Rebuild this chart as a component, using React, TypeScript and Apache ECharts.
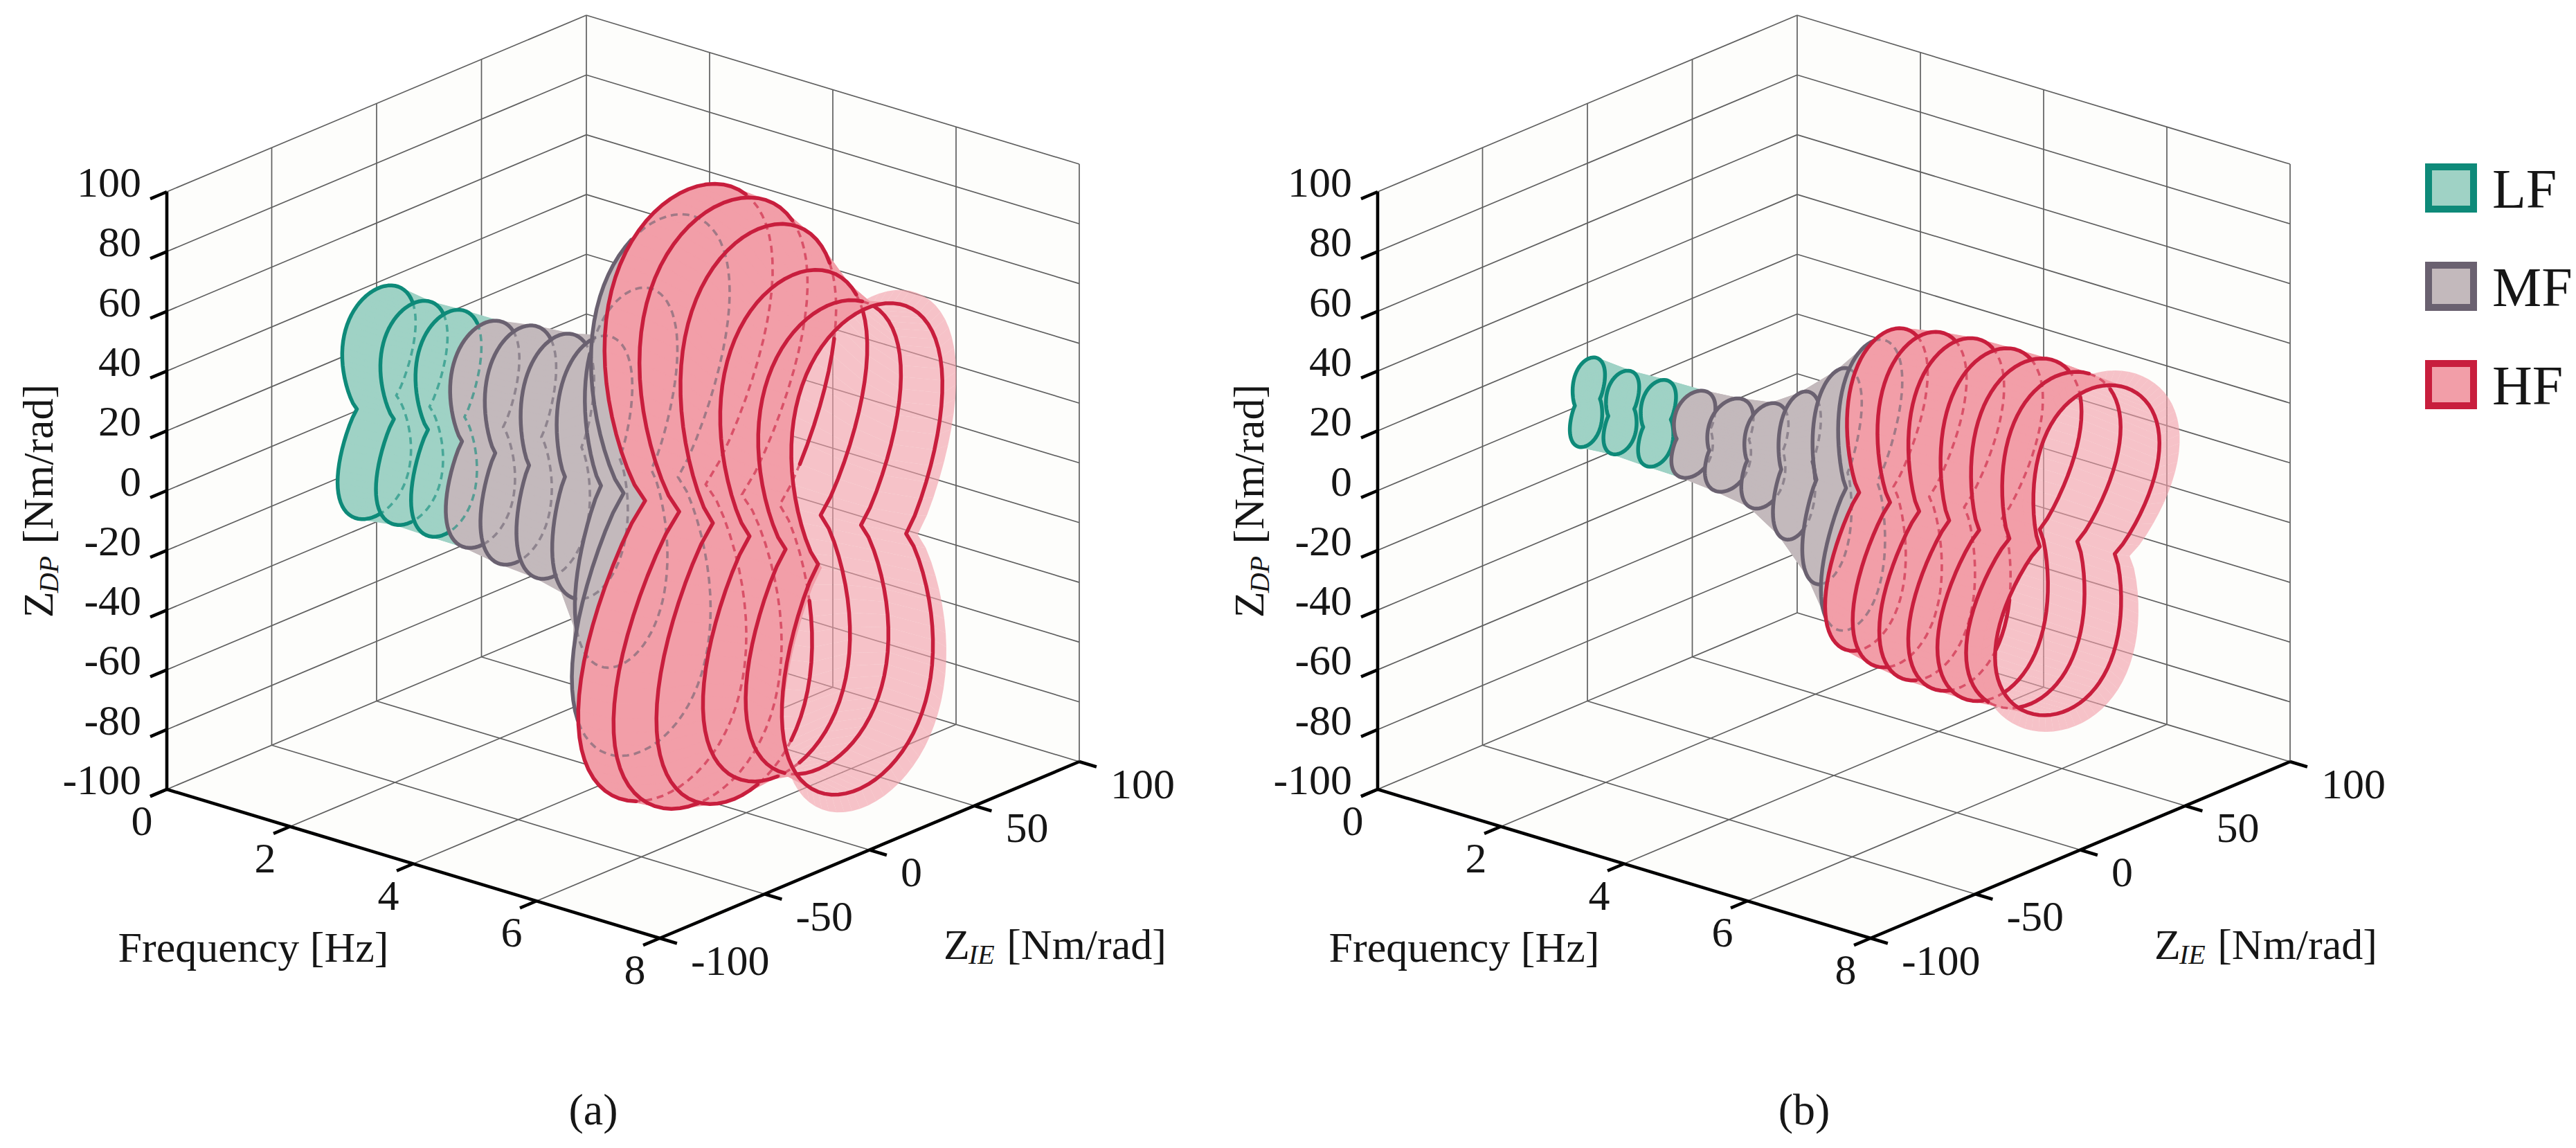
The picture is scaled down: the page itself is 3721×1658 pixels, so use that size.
import React, { useEffect, useRef } from "react";
import * as echarts from "echarts";

const PAGE_W = 3721;
const PAGE_H = 1658;

/* ---------------- axes & texts ---------------- */
const FREQ_TICKS = [0, 2, 4, 6, 8];
const ZIE_TICKS = [-100, -50, 0, 50, 100];
const ZDP_TICKS = [-100, -80, -60, -40, -20, 0, 20, 40, 60, 80, 100];
const FREQ_TITLE = "Frequency [Hz]";
const UNIT_TEXT = "[Nm/rad]";
const IE_SUB = "IE";
const DP_SUB = "DP";
const PANEL_TAGS = ["(a)", "(b)"];
const LEGEND_BANDS = ["LF", "MF", "HF"];

/* ---------------- panel (a): impedance contours ---------------- */
const freqA = [0.0, 0.57, 1.13, 1.72, 2.3, 2.9, 3.5, 4.05, 4.45, 4.85, 5.42, 6.0, 6.63, 7.25, 7.88, 8.0];
const bandA = ["LF", "LF", "LF", "MF", "MF", "MF", "MF", "MF", "MF", "HF", "HF", "HF", "HF", "HF", "HF", "HF"];
const halfWidthA = [17.5, 16.0, 15.7, 16.5, 17.0, 17.5, 18.0, 22.0, 33.0, 40.0, 40.0, 37.0, 35.0, 34.0, 36.0, 39.0];
const halfHeightA = [38, 36.5, 37, 37, 39, 40, 43, 62, 88, 100, 99, 94, 83, 77, 80, 85];
const waistA = [9.4, 8.5, 8.7, 9.8, 11, 12.5, 13, 12, 13, 14.5, 15, 16, 17, 18, 21, 23];
const tiltA = [3, 3, 3, 3, 3, 3, 3, 4, 5, 6, 6, 6, 5, 4, 3, 3];
const outlinedA = [1, 1, 1, 1, 1, 1, 1, 1, 1, 1, 1, 1, 1, 1, 1, 0];

/* ---------------- panel (b): impedance contours ---------------- */
const freqB = [0.0, 0.55, 1.13, 1.72, 2.3, 2.88, 3.4, 3.97, 4.45, 4.69, 5.23, 5.75, 6.3, 6.85, 7.4, 7.95, 8.0];
const bandB = ["LF", "LF", "LF", "MF", "MF", "MF", "MF", "MF", "MF", "HF", "HF", "HF", "HF", "HF", "HF", "HF", "HF"];
const halfWidthB = [7.7, 7.9, 8.4, 9.9, 11.0, 10.5, 10.0, 11.5, 15.0, 19.0, 21.0, 22.5, 24.0, 26.0, 28.0, 30.0, 38.0];
const halfHeightB = [14.5, 13.5, 14.0, 14.0, 15.0, 17.0, 24.0, 35.0, 47.0, 52.0, 54.0, 55.0, 55.0, 55.0, 54.0, 53.0, 58.0];
const waistB = [6.0, 6.2, 6.6, 8.0, 9.5, 8.5, 7.5, 7.5, 7.5, 8.3, 9.5, 11.0, 13.0, 15.0, 17.0, 19.0, 25.0];
const tiltB = [6, 6, 6, 6, 6, 6, 7, 8, 9, 10, 11, 13, 15, 16, 18, 20, 20];
const outlinedB = [1, 1, 1, 1, 1, 1, 1, 1, 1, 1, 1, 1, 1, 1, 1, 1, 0];

/* ---------------- layout & style ---------------- */
const BOX_ORIGIN = [241, 1140];
const AXIS_F = [712, 215];
const AXIS_I = [606, -255];
const AXIS_D = [0, -863];
const PANEL_SHIFT = [0, 1749];
const TICK_LEN = 26;
const FAMILY = "Liberation Serif";
const TICK_SIZE = 62;
const TITLE_SIZE = 62;
const SUB_SIZE = 40;
const TAG_SIZE = 64;
const LEGEND_SIZE = 80;
const TEXT_COLOR = "#161616";
const WALL_FILL = "#fdfdfb";
const GRID_COLOR = "#5f5f5f";
const GRID_W = 1.7;
const AXIS_W = 4.6;
const BAND_LINE: Record<string, string> = { LF: "#0e8a79", MF: "#6a6170", HF: "#c81e3d" };
const BAND_FILL: Record<string, string> = { LF: "#9fd2c5", MF: "#c3b9bc", HF: "#f29ea8" };
const RING_SAMPLES = 100;
const SHAPE_POWER = 0.8;

const F_MIN = FREQ_TICKS[0];
const F_MAX = FREQ_TICKS[FREQ_TICKS.length - 1];
const I_MIN = ZIE_TICKS[0];
const I_MAX = ZIE_TICKS[ZIE_TICKS.length - 1];
const D_MIN = ZDP_TICKS[0];
const D_MAX = ZDP_TICKS[ZDP_TICKS.length - 1];

function unitCoords(f: number, zie: number, zdp: number) {
  return [(f - F_MIN) / (F_MAX - F_MIN), (zie - I_MIN) / (I_MAX - I_MIN), (zdp - D_MIN) / (D_MAX - D_MIN)];
}

function project(pi: number, f: number, zie: number, zdp: number): number[] {
  const [X, Y, Z] = unitCoords(f, zie, zdp);
  return [
    BOX_ORIGIN[0] + PANEL_SHIFT[pi] + X * AXIS_F[0] + Y * AXIS_I[0] + Z * AXIS_D[0],
    BOX_ORIGIN[1] + X * AXIS_F[1] + Y * AXIS_I[1] + Z * AXIS_D[1],
  ];
}

// view direction (towards the viewer) of the orthographic projection
const VIEW = (() => {
  const r1 = [AXIS_F[0], AXIS_I[0], AXIS_D[0]];
  const r2 = [AXIS_F[1], AXIS_I[1], AXIS_D[1]];
  let d = [r1[1] * r2[2] - r1[2] * r2[1], r1[2] * r2[0] - r1[0] * r2[2], r1[0] * r2[1] - r1[1] * r2[0]];
  if (d[0] < 0) d = d.map((v) => -v);
  const n = Math.hypot(d[0], d[1], d[2]);
  return d.map((v) => v / n);
})();

function nearness(f: number, zie: number, zdp: number) {
  const [X, Y, Z] = unitCoords(f, zie, zdp);
  return X * VIEW[0] + Y * VIEW[1] + Z * VIEW[2];
}

function lobeGain(A: number, Aw: number) {
  if (A <= Aw + 1e-6) return 0;
  const widest = (k: number) => {
    let m = 0;
    for (let i = 0; i <= 200; i++) {
      const u = i / 200;
      const v = Math.sqrt(1 - u * u) * (Aw + k * Math.pow(u, SHAPE_POWER));
      if (v > m) m = v;
    }
    return m;
  };
  let lo = 0;
  let hi = 40 * A;
  for (let it = 0; it < 60; it++) {
    const mid = (lo + hi) / 2;
    if (widest(mid) > A) hi = mid;
    else lo = mid;
  }
  return (lo + hi) / 2;
}

function contour(A: number, B: number, Aw: number, tiltDeg: number) {
  const k = lobeGain(A, Aw);
  const r = (tiltDeg * Math.PI) / 180;
  const cr = Math.cos(r);
  const sr = Math.sin(r);
  const out: number[][] = [];
  for (let j = 0; j < RING_SAMPLES; j++) {
    const t = (2 * Math.PI * j) / RING_SAMPLES;
    const u = Math.cos(t);
    const s = Math.sin(t);
    const half = k === 0 ? A : Aw + k * Math.pow(Math.abs(u), SHAPE_POWER);
    const x = s * half;
    const y = B * u;
    out.push([x * cr + y * sr, -x * sr + y * cr]);
  }
  return out;
}

type Pt = { x: number; y: number; s: number };

function insidePoly(pts: Pt[], x: number, y: number) {
  let inside = false;
  for (let i = 0, j = pts.length - 1; i < pts.length; j = i++) {
    const xi = pts[i].x, yi = pts[i].y, xj = pts[j].x, yj = pts[j].y;
    if (yi > y !== yj > y && x < ((xj - xi) * (y - yi)) / (yj - yi + 1e-12) + xi) inside = !inside;
  }
  return inside;
}

function area2(pts: Pt[]) {
  let a = 0;
  for (let i = 0; i < pts.length; i++) {
    const p = pts[i];
    const q = pts[(i + 1) % pts.length];
    a += p.x * q.y - q.x * p.y;
  }
  return a;
}

function buildPanel(pi: number, freq: number[], band: string[], A: number[], B: number[], Aw: number[], tilt: number[], outlined: number[]) {
  const N = RING_SAMPLES;
  const rings: Pt[][] = freq.map((f, i) =>
    contour(A[i], B[i], Aw[i], tilt[i]).map(([zie, zdp]) => {
      const p = project(pi, f, zie, zdp);
      return { x: p[0], y: p[1], s: nearness(f, zie, zdp) };
    })
  );
  const jl = Math.round((3 * N) / 4);
  const refArea = area2([rings[0][jl], rings[0][(jl + 1) % N], rings[1][(jl + 1) % N], rings[1][jl]]);
  const frontSign = refArea >= 0 ? 1 : -1;
  const quads: any[] = [];
  for (let i = 0; i < rings.length - 1; i++) {
    for (let j = 0; j < N; j++) {
      const jn = (j + 1) % N;
      const pts = [rings[i][j], rings[i][jn], rings[i + 1][jn], rings[i + 1][j]];
      const s = (pts[0].s + pts[1].s + pts[2].s + pts[3].s) / 4;
      const xs = pts.map((p) => p.x);
      const ys = pts.map((p) => p.y);
      quads.push({
        seg: i,
        band: band[i],
        pts,
        s,
        front: area2(pts) * frontSign >= 0,
        minx: Math.min(...xs),
        maxx: Math.max(...xs),
        miny: Math.min(...ys),
        maxy: Math.max(...ys),
      });
    }
  }
  quads.sort((a, b) => a.s - b.s);
  const outlines: any[] = [];
  for (let i = 0; i < rings.length; i++) {
    if (!outlined[i]) continue;
    const ring = rings[i];
    const vis = ring.map((p) => {
      for (const q of quads) {
        if (q.seg === i || q.seg === i - 1) continue;
        if (q.s <= p.s + 0.003) continue;
        if (p.x < q.minx || p.x > q.maxx || p.y < q.miny || p.y > q.maxy) continue;
        if (insidePoly(q.pts, p.x, p.y)) return false;
      }
      return true;
    });
    const segVis = vis.map((v, j) => v && vis[(j + 1) % N]);
    let start = 0;
    for (let j = 0; j < N; j++) {
      if (segVis[j] !== segVis[(j - 1 + N) % N]) {
        start = j;
        break;
      }
    }
    const runs: any[] = [];
    let cur: any = null;
    for (let k = 0; k < N; k++) {
      const j = (start + k) % N;
      const v = segVis[j];
      if (!cur || cur.v !== v) {
        cur = { v, pts: [ring[j]] };
        runs.push(cur);
      }
      cur.pts.push(ring[(j + 1) % N]);
    }
    outlines.push({ band: band[i], runs });
  }
  return { quads, outlines };
}

/* ---------------- element helpers ---------------- */
let measureCtx: CanvasRenderingContext2D | null = null;
function measure(t: string, size: number, italic = false) {
  if (!measureCtx) measureCtx = document.createElement("canvas").getContext("2d");
  if (!measureCtx) return t.length * size * 0.5;
  measureCtx.font = `${italic ? "italic " : ""}${size}px '${FAMILY}', serif`;
  return measureCtx.measureText(t).width;
}

function seg(a: number[], b: number[], color: string, w: number) {
  return {
    type: "line",
    silent: true,
    shape: { x1: a[0], y1: a[1], x2: b[0], y2: b[1] },
    style: { stroke: color, lineWidth: w, lineCap: "butt" },
  };
}

function txt(x: number, y: number, text: string, size: number, align: string, italic = false) {
  return {
    type: "text",
    silent: true,
    x,
    y,
    style: {
      text,
      fontSize: size,
      fontFamily: FAMILY,
      fontStyle: italic ? "italic" : "normal",
      fill: TEXT_COLOR,
      align,
      verticalAlign: "middle",
      textAlign: align,
      textVerticalAlign: "middle",
    },
  };
}

function compositeTitle(cx: number, cy: number, sub: string, rotated: boolean) {
  const w1 = measure("Z", TITLE_SIZE);
  const w2 = measure(sub, SUB_SIZE, true);
  const gap = measure(" ", TITLE_SIZE);
  const w3 = measure(UNIT_TEXT, TITLE_SIZE);
  const total = w1 + w2 + gap + w3;
  const x0 = -total / 2;
  return {
    type: "group",
    silent: true,
    x: cx,
    y: cy,
    rotation: rotated ? Math.PI / 2 : 0,
    children: [
      txt(x0, 0, "Z", TITLE_SIZE, "left"),
      txt(x0 + w1 - 2, 15, sub, SUB_SIZE, "left", true),
      txt(x0 + w1 + w2 + gap, 0, UNIT_TEXT, TITLE_SIZE, "left"),
    ],
  };
}

function unit(v: number[]) {
  const n = Math.hypot(v[0], v[1]);
  return [v[0] / n, v[1] / n];
}

function frameGroup(pi: number, api: any) {
  const P = (f: number, i: number, d: number) => api.coord(project(pi, f, i, d));
  const ch: any[] = [];
  const wall = (pts: number[][]) => ({ type: "polygon", silent: true, shape: { points: pts }, style: { fill: WALL_FILL, stroke: null } });
  ch.push(wall([P(F_MIN, I_MIN, D_MIN), P(F_MIN, I_MAX, D_MIN), P(F_MIN, I_MAX, D_MAX), P(F_MIN, I_MIN, D_MAX)]));
  ch.push(wall([P(F_MIN, I_MAX, D_MIN), P(F_MAX, I_MAX, D_MIN), P(F_MAX, I_MAX, D_MAX), P(F_MIN, I_MAX, D_MAX)]));
  ch.push(wall([P(F_MIN, I_MIN, D_MIN), P(F_MAX, I_MIN, D_MIN), P(F_MAX, I_MAX, D_MIN), P(F_MIN, I_MAX, D_MIN)]));
  const g = (a: number[], b: number[]) => ch.push(seg(a, b, GRID_COLOR, GRID_W));
  ZIE_TICKS.slice(1, -1).forEach((v) => {
    g(P(F_MIN, v, D_MIN), P(F_MIN, v, D_MAX));
    g(P(F_MIN, v, D_MIN), P(F_MAX, v, D_MIN));
  });
  ZDP_TICKS.slice(1, -1).forEach((v) => {
    g(P(F_MIN, I_MIN, v), P(F_MIN, I_MAX, v));
    g(P(F_MIN, I_MAX, v), P(F_MAX, I_MAX, v));
  });
  FREQ_TICKS.slice(1, -1).forEach((v) => {
    g(P(v, I_MAX, D_MIN), P(v, I_MAX, D_MAX));
    g(P(v, I_MIN, D_MIN), P(v, I_MAX, D_MIN));
  });
  g(P(F_MIN, I_MIN, D_MAX), P(F_MIN, I_MAX, D_MAX));
  g(P(F_MIN, I_MAX, D_MAX), P(F_MAX, I_MAX, D_MAX));
  g(P(F_MIN, I_MAX, D_MIN), P(F_MIN, I_MAX, D_MAX));
  g(P(F_MAX, I_MAX, D_MIN), P(F_MAX, I_MAX, D_MAX));
  g(P(F_MIN, I_MIN, D_MIN), P(F_MIN, I_MAX, D_MIN));
  g(P(F_MIN, I_MAX, D_MIN), P(F_MAX, I_MAX, D_MIN));
  ch.push(seg(P(F_MIN, I_MIN, D_MIN), P(F_MIN, I_MIN, D_MAX), "#000", AXIS_W));
  ch.push(seg(P(F_MIN, I_MIN, D_MIN), P(F_MAX, I_MIN, D_MIN), "#000", AXIS_W));
  ch.push(seg(P(F_MAX, I_MIN, D_MIN), P(F_MAX, I_MAX, D_MIN), "#000", AXIS_W));
  const dI = unit(AXIS_I);
  const dF = unit(AXIS_F);
  const outI = [-dI[0] * TICK_LEN, -dI[1] * TICK_LEN];
  const outF = [dF[0] * TICK_LEN, dF[1] * TICK_LEN];
  ZDP_TICKS.forEach((v) => {
    const b = P(F_MIN, I_MIN, v);
    const e = [b[0] + outI[0], b[1] + outI[1]];
    ch.push(seg(b, e, "#000", AXIS_W));
    ch.push(txt(e[0] - 13, e[1] - 24, String(v), TICK_SIZE, "right"));
  });
  FREQ_TICKS.forEach((v) => {
    const b = P(v, I_MIN, D_MIN);
    const e = [b[0] + outI[0], b[1] + outI[1]];
    ch.push(seg(b, e, "#000", AXIS_W));
    ch.push(txt(e[0] - 12, e[1] + 35, String(v), TICK_SIZE, "center"));
  });
  ZIE_TICKS.forEach((v) => {
    const b = P(F_MAX, v, D_MIN);
    const e = [b[0] + outF[0], b[1] + outF[1]];
    ch.push(seg(b, e, "#000", AXIS_W));
    ch.push(txt(e[0] + 20, e[1] + 24, String(v), TICK_SIZE, "left"));
  });
  const fMid = P((F_MIN + F_MAX) / 2, I_MIN, D_MIN);
  ch.push(txt(fMid[0] - 231, fMid[1] + 120, FREQ_TITLE, TITLE_SIZE, "center"));
  const iMid = P(F_MAX, (I_MIN + I_MAX) / 2, D_MIN);
  ch.push(compositeTitle(iMid[0] + 268, iMid[1] + 136, IE_SUB, false));
  const dMid = P(F_MIN, I_MIN, (D_MIN + D_MAX) / 2);
  ch.push(compositeTitle(dMid[0] - 186, dMid[1] + 15, DP_SUB, true));
  const corner = P(F_MAX, I_MIN, D_MIN);
  ch.push(txt(corner[0] - 96, corner[1] + 247, PANEL_TAGS[pi], TAG_SIZE, "center"));
  return { type: "group", silent: true, children: ch };
}

function surfaceGroup(geo: any, api: any) {
  const c = (p: Pt) => api.coord([p.x, p.y]);
  const children = geo.quads.map((q: any) =>
    q.front
      ? {
          type: "polygon",
          silent: true,
          shape: { points: q.pts.map(c) },
          style: { fill: BAND_FILL[q.band], stroke: BAND_FILL[q.band], lineWidth: 1.3, lineJoin: "round" },
        }
      : {
          type: "polygon",
          silent: true,
          shape: { points: q.pts.map(c) },
          style: { fill: BAND_FILL[q.band], stroke: null, opacity: 0.62 },
        }
  );
  return { type: "group", silent: true, children };
}

function outlineGroup(geo: any, api: any) {
  const c = (p: Pt) => api.coord([p.x, p.y]);
  const hidden: any[] = [];
  const shown: any[] = [];
  geo.outlines.forEach((o: any) =>
    o.runs.forEach((r: any) => {
      if (r.v) {
        shown.push({
          type: "polyline",
          silent: true,
          shape: { points: r.pts.map(c) },
          style: { stroke: BAND_LINE[o.band], lineWidth: 5.5, fill: "none", lineJoin: "round", lineCap: "round" },
        });
      } else {
        hidden.push({
          type: "polyline",
          silent: true,
          shape: { points: r.pts.map(c) },
          style: { stroke: BAND_LINE[o.band], lineWidth: 3.6, fill: "none", lineDash: [10, 7], opacity: 0.6 },
        });
      }
    })
  );
  return { type: "group", silent: true, children: hidden.concat(shown) };
}

function legendGroup(idx: number, api: any) {
  const band = LEGEND_BANDS[idx];
  const top = api.coord([3508, 241 + idx * 142]);
  return {
    type: "group",
    silent: true,
    children: [
      {
        type: "rect",
        silent: true,
        shape: { x: top[0], y: top[1], width: 65, height: 61 },
        style: { fill: BAND_FILL[band], stroke: BAND_LINE[band], lineWidth: 10 },
      },
      txt(top[0] + 92, top[1] + 32, band, LEGEND_SIZE, "left"),
    ],
  };
}

function buildOption() {
  const geoA = buildPanel(0, freqA, bandA, halfWidthA, halfHeightA, waistA, tiltA, outlinedA);
  const geoB = buildPanel(1, freqB, bandB, halfWidthB, halfHeightB, waistB, tiltB, outlinedB);
  const base = { type: "custom", coordinateSystem: "cartesian2d", silent: true, clip: false };
  return {
    animation: false,
    backgroundColor: "#ffffff",
    textStyle: { fontFamily: FAMILY },
    grid: { left: 0, right: 0, top: 0, bottom: 0 },
    xAxis: { type: "value", min: 0, max: PAGE_W, show: false },
    yAxis: { type: "value", min: 0, max: PAGE_H, inverse: true, show: false },
    tooltip: { show: false },
    series: [
      { ...base, name: "frame", z: 1, data: [[0, 0], [1, 0]], renderItem: (p: any, api: any) => frameGroup(p.dataIndex, api) },
      { ...base, name: "surface (a)", z: 2, data: [[0, 0]], renderItem: (_p: any, api: any) => surfaceGroup(geoA, api) },
      { ...base, name: "contours (a)", z: 3, data: [[0, 0]], renderItem: (_p: any, api: any) => outlineGroup(geoA, api) },
      { ...base, name: "surface (b)", z: 2, data: [[0, 0]], renderItem: (_p: any, api: any) => surfaceGroup(geoB, api) },
      { ...base, name: "contours (b)", z: 3, data: [[0, 0]], renderItem: (_p: any, api: any) => outlineGroup(geoB, api) },
      { ...base, name: "legend", z: 4, data: [[0, 0], [1, 0], [2, 0]], renderItem: (p: any, api: any) => legendGroup(p.dataIndex, api) },
    ],
  };
}

export default function App() {
  const ref = useRef<HTMLDivElement>(null);
  useEffect(() => {
    document.body.style.margin = "0";
    document.body.style.overflow = "hidden";
    if (!ref.current) return;
    const chart = echarts.init(ref.current, undefined, { renderer: "svg" });
    chart.setOption(buildOption() as any);
    return () => chart.dispose();
  }, []);
  return (
    <div
      ref={ref}
      style={{ position: "absolute", left: 0, top: 0, width: PAGE_W, height: PAGE_H, background: "#ffffff" }}
    />
  );
}
